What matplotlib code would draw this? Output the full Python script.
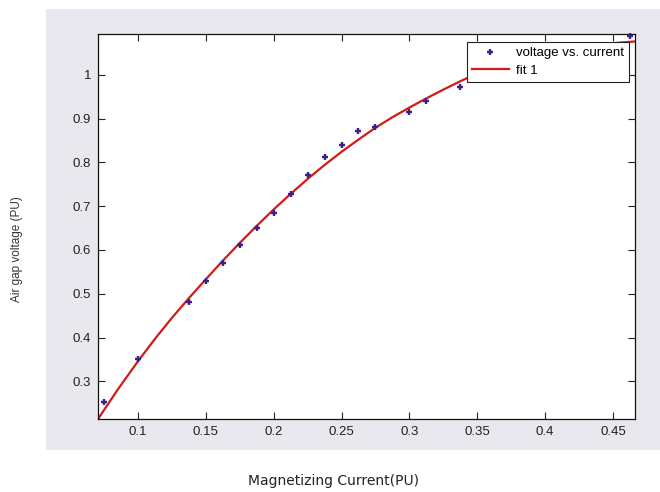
import numpy as np
import matplotlib
matplotlib.use("Agg")
import matplotlib.pyplot as plt

current = [0.075, 0.1, 0.1375, 0.15, 0.1625, 0.175, 0.1875, 0.2, 0.2125,
           0.225, 0.2375, 0.25, 0.2625, 0.275, 0.3, 0.3125, 0.3375, 0.4625]
voltage = [0.253, 0.350, 0.482, 0.529, 0.570, 0.612, 0.651, 0.684, 0.727,
           0.770, 0.812, 0.840, 0.871, 0.880, 0.916, 0.941, 0.973, 1.088]
# "fit 1" curve
fit_current = [0.0705, 0.085, 0.1, 0.1125, 0.125, 0.1375, 0.15, 0.1625, 0.175,
               0.1875, 0.2, 0.2125, 0.225, 0.2375, 0.25, 0.2625, 0.275, 0.2875,
               0.3, 0.3125, 0.325, 0.3375, 0.35, 0.375, 0.4, 0.425, 0.45, 0.4663]
fit_voltage = [0.214, 0.281, 0.346, 0.397, 0.445, 0.490, 0.533, 0.5755, 0.616,
               0.655, 0.6925, 0.728, 0.762, 0.794, 0.824, 0.852, 0.879, 0.903,
               0.925, 0.946, 0.966, 0.985, 1.003, 1.030, 1.050, 1.064, 1.072, 1.076]
x_ticks = [0.1, 0.15, 0.2, 0.25, 0.3, 0.35, 0.4, 0.45]
y_ticks = [0.3, 0.4, 0.5, 0.6, 0.7, 0.8, 0.9, 1.0]
x_tick_labels = ["0.1", "0.15", "0.2", "0.25", "0.3", "0.35", "0.4", "0.45"]
y_tick_labels = ["0.3", "0.4", "0.5", "0.6", "0.7", "0.8", "0.9", "1"]

W, H = 660, 492
fig = plt.figure(figsize=(W / 100, H / 100), dpi=100)
fig.patch.set_facecolor("white")

# gray MATLAB-figure panel as a background axes
bg = fig.add_axes([46 / W, 1 - 450 / H, (W - 46) / W, (450 - 9) / H], zorder=0)
bg.set_facecolor("#e9e8ee")
bg.set_xticks([])
bg.set_yticks([])
for s in bg.spines.values():
    s.set_visible(False)

ax = fig.add_axes([98 / W, 1 - 419 / H, (635 - 98) / W, (419 - 34) / H], zorder=1)
ax.set_facecolor("white")

ax.plot(current, voltage, linestyle="none", marker="+", markersize=4.2, mew=1.7,
        color="#3c1f8a", label="voltage vs. current", zorder=3, clip_on=False)
ax.plot(fit_current, fit_voltage, color="#d41a14", lw=1.6, label="fit 1", zorder=2,
        solid_joinstyle="round")

ax.set_xlim(0.0705, 0.4663)
ax.set_ylim(0.214, 1.093)
ax.set_xticks(x_ticks)
ax.set_xticklabels(x_tick_labels)
ax.set_yticks(y_ticks)
ax.set_yticklabels(y_tick_labels)
for lab in ax.get_xticklabels() + ax.get_yticklabels():
    lab.set_fontfamily("Liberation Sans")
    lab.set_fontsize(9.5)
    lab.set_color("#222222")
ax.tick_params(direction="in", length=5, width=0.8, top=True, right=True,
               pad=5, colors="#222222")
for s in ax.spines.values():
    s.set_linewidth(0.9)
    s.set_color("#111111")

leg = ax.legend(loc="upper right", bbox_to_anchor=(0.9888, 0.979), borderaxespad=0,
                fancybox=False, framealpha=1, edgecolor="#222222", borderpad=0.38,
                handlelength=2.8, handletextpad=0.56, labelspacing=0.4,
                prop={"family": "Liberation Sans", "size": 9.5})
leg.get_frame().set_linewidth(0.8)

fig.text(334 / W, 1 - 481 / H, "Magnetizing Current(PU)", ha="center", va="center",
         family="DejaVu Sans", fontsize=10, color="#222222")
fig.text(17 / W, 1 - 249 / H, "Air gap voltage (PU)", ha="center", va="center",
         rotation=90, family="Liberation Sans", fontsize=8.5, color="#333333")

fig.savefig("out.png", dpi=100, facecolor="white")
